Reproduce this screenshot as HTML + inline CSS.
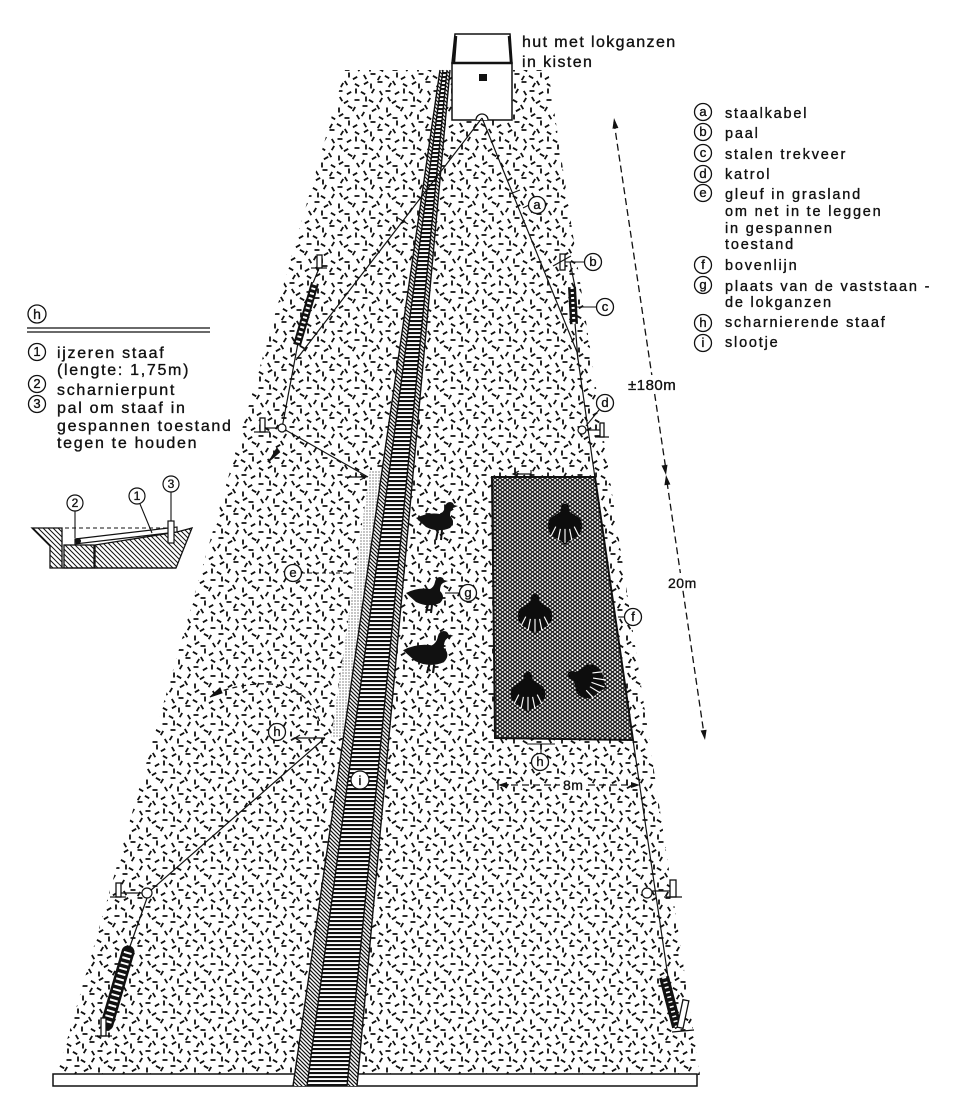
<!DOCTYPE html>
<html><head><meta charset="utf-8"><style>
html,body{margin:0;padding:0;background:#fff;}
svg{display:block;}
text{font-family:"Liberation Sans",Arial,sans-serif;fill:#111;stroke:#111;stroke-width:0.35;}
</style></head><body>
<svg width="960" height="1094" viewBox="0 0 960 1094" xmlns="http://www.w3.org/2000/svg">
<defs>
<pattern id="grass" patternUnits="userSpaceOnUse" width="48" height="48">
<path fill="none" stroke="#111" stroke-width="1.8" d="M3.8 0.9 l2.5 4.3 M12.2 4.8 l-4.3 2.5 M18.5 4 l5 0 M30 0.5 l0 5 M32.9 3.8 l4.3 2.5 M46.2 1.9 l-2.5 4.3
M3 11.5 l0 5 M11.9 9.8 l4.3 2.5 M19.2 10.9 l-2.5 4.3 M26.5 10 l5 0 M40.2 12.8 l-4.3 2.5 M40.8 8.9 l2.5 4.3
M7.2 17.8 l-4.3 2.5 M8.5 22 l5 0 M20.8 18.9 l2.5 4.3 M28.2 15.9 l-2.5 4.3 M34 18.5 l0 5 M42.9 20.8 l4.3 2.5
M0.9 27.8 l4.3 2.5 M13 24.5 l0 5 M21.2 28.8 l-4.3 2.5 M27.8 26.9 l2.5 4.3 M34.5 26 l5 0 M44.2 27.9 l-2.5 4.3
M7.2 34.9 l-2.5 4.3 M8.8 32.9 l2.5 4.3 M18.9 35.8 l4.3 2.5 M32.2 33.8 l-4.3 2.5 M35 35.5 l0 5 M41.5 34 l5 0
M1.5 43 l5 0 M15.2 43.8 l-4.3 2.5 M20 40.5 l0 5 M24.9 43.8 l4.3 2.5 M38.2 40.9 l-2.5 4.3 M43.8 42.9 l2.5 4.3"/>
</pattern>
<pattern id="hatch" patternUnits="userSpaceOnUse" width="4" height="4">
<path d="M0,0 L4,4 M-1,3 L1,5 M3,-1 L5,1" stroke="#111" stroke-width="1.2"/>
</pattern>
<pattern id="hatch2" patternUnits="userSpaceOnUse" width="5" height="5">
<path d="M0,0 L5,5 M-1,4 L1,6 M4,-1 L6,1" stroke="#111" stroke-width="1"/>
</pattern>
<pattern id="rungs" patternUnits="userSpaceOnUse" width="8" height="4">
<rect width="8" height="2.1" fill="#111"/>
</pattern>
<pattern id="mesh" patternUnits="userSpaceOnUse" width="5" height="4">
<rect width="5" height="4" fill="#1a1a1a"/>
<path d="M2.5,0.8 L3.9,2 L2.5,3.2 L1.1,2Z M0,-1.2 L1.4,0 L0,1.2 L-1.4,0Z M5,-1.2 L6.4,0 L5,1.2 L3.6,0Z M0,2.8 L1.4,4 L0,5.2 L-1.4,4Z M5,2.8 L6.4,4 L5,5.2 L3.6,4Z" fill="#fff"/>
</pattern>
<pattern id="dots" patternUnits="userSpaceOnUse" width="3" height="3">
<circle cx="1" cy="1" r="0.6" fill="#333"/>
</pattern>
</defs>

<!-- field -->
<polygon points="345,70 548,70 700,1075 57,1075" fill="url(#grass)"/>

<!-- baseline -->
<rect x="53" y="1074" width="644" height="12" fill="#fff" stroke="#111" stroke-width="1.5"/>

<!-- gleuf stipple band -->
<polygon points="370,470 383,470 346,738 331,738" fill="#fff"/>
<polygon points="370,470 383,470 346,738 331,738" fill="url(#dots)"/>

<!-- ditch -->
<polygon points="440,70 443,70 307,1086 293,1086" fill="#fff"/>
<polygon points="440,70 443,70 307,1086 293,1086" fill="url(#hatch)"/>
<polygon points="443,70 447,70 347,1086 307,1086" fill="#fff"/>
<polygon points="443,70 447,70 347,1086 307,1086" fill="url(#rungs)"/>
<polygon points="447,70 450,70 357,1086 347,1086" fill="#fff"/>
<polygon points="447,70 450,70 357,1086 347,1086" fill="url(#hatch)"/>
<g stroke="#111" stroke-width="1.4" fill="none">
<line x1="440" y1="70" x2="293" y2="1086"/>
<line x1="443" y1="70" x2="307" y2="1086"/>
<line x1="447" y1="70" x2="347" y2="1086"/>
<line x1="450" y1="70" x2="357" y2="1086"/>
</g>
<circle cx="360" cy="780" r="9" fill="#fff" stroke="#111" stroke-width="1.2"/>
<text x="360" y="785" font-size="13" text-anchor="middle">i</text>

<!-- hut -->
<polygon points="455,34 510,34 512,63 452,63" fill="#fff" stroke="#111" stroke-width="1.5"/>
<line x1="456" y1="36" x2="454" y2="62" stroke="#111" stroke-width="2.5"/>
<line x1="509" y1="36" x2="511" y2="62" stroke="#111" stroke-width="2.5"/>
<rect x="452" y="63" width="60" height="57" fill="#fff" stroke="#111" stroke-width="1.5"/>
<line x1="452" y1="63" x2="512" y2="63" stroke="#111" stroke-width="2.5"/>
<rect x="479" y="74" width="8" height="7" fill="#111"/>
<path d="M476,120 A6,6 0 0 1 488,120" fill="#fff" stroke="#111" stroke-width="1.3"/>
<text x="522" y="47" font-size="16" letter-spacing="1.4">hut met lokganzen</text>
<text x="522" y="67" font-size="16" letter-spacing="1.4">in kisten</text>

<!-- cables -->
<g stroke="#111" stroke-width="1.2" fill="none">
<polyline points="482,118 577,352 595,478"/>
<line x1="633" y1="740" x2="668" y2="977"/>
<line x1="482" y1="118" x2="296" y2="360"/>
<line x1="282" y1="428" x2="298" y2="343"/>
<line x1="313" y1="283" x2="320" y2="266"/>
<line x1="282" y1="428" x2="368" y2="477"/>
<line x1="263" y1="428" x2="278" y2="428"/>
<line x1="325" y1="738" x2="150" y2="891"/>
<line x1="147" y1="898" x2="128" y2="952"/>
<line x1="120" y1="893" x2="142" y2="893"/>
<line x1="652" y1="891" x2="672" y2="891"/>
<line x1="570" y1="262" x2="575" y2="287"/>
<line x1="575" y1="323" x2="578" y2="360"/>
<line x1="586" y1="430" x2="600" y2="430"/>
<line x1="510" y1="194" x2="520" y2="190"/>
<line x1="398" y1="218" x2="408" y2="224"/>
</g>

<!-- pulleys -->
<g fill="#fff" stroke="#111" stroke-width="1.2">
<circle cx="282" cy="428" r="4"/>
<circle cx="582" cy="430" r="4"/>
<circle cx="147" cy="893" r="5"/>
<circle cx="647" cy="893" r="5"/>
</g>

<!-- springs -->
<line x1="315" y1="283" x2="297" y2="345" stroke="#111" stroke-width="8"/>
<line x1="315" y1="283" x2="297" y2="345" stroke="#fff" stroke-width="4" stroke-dasharray="2 3"/>
<line x1="572" y1="287" x2="574" y2="324" stroke="#111" stroke-width="8"/>
<line x1="572" y1="287" x2="574" y2="324" stroke="#fff" stroke-width="3" stroke-dasharray="2 3"/>
<line x1="128" y1="952" x2="107" y2="1024" stroke="#111" stroke-width="13" stroke-linecap="round"/>
<line x1="128" y1="952" x2="107" y2="1024" stroke="#fff" stroke-width="8" stroke-dasharray="2 3.5"/>
<line x1="664" y1="977" x2="677" y2="1027" stroke="#111" stroke-width="10"/>
<line x1="664" y1="977" x2="677" y2="1027" stroke="#fff" stroke-width="4" stroke-dasharray="1.5 3.5"/>

<!-- posts -->
<g stroke="#111" stroke-width="1.3" fill="#fff">
<rect x="317" y="255" width="5" height="13"/>
<rect x="560" y="254" width="5" height="16"/>
<rect x="260" y="418" width="5" height="14"/>
<rect x="600" y="423" width="4" height="14"/>
<rect x="116" y="883" width="5" height="14"/>
<rect x="670" y="880" width="6" height="17"/>
<rect x="101" y="1018" width="5" height="18"/>
<rect x="680" y="1000" width="6" height="28" transform="rotate(12 683 1014)"/>
</g>
<g stroke="#111" stroke-width="1.2">
<line x1="311" y1="268" x2="327" y2="268"/>
<line x1="553" y1="266" x2="571" y2="256"/>
<line x1="254" y1="432" x2="270" y2="432"/>
<line x1="595" y1="437" x2="609" y2="437"/>
<line x1="110" y1="897" x2="126" y2="897"/>
<line x1="664" y1="897" x2="682" y2="897"/>
<line x1="95" y1="1036" x2="112" y2="1036"/>
<line x1="672" y1="1032" x2="694" y2="1030"/>
</g>

<!-- small arrows -->
<path d="M271,459 L279,452 L277,449Z M268,462 L279,450" stroke="#111" stroke-width="2" fill="#111"/>
<path d="M345,477 L366,477 M360,474 L366,477 L360,480" stroke="#111" stroke-width="1.2" fill="none"/>
<path d="M513,474 L531,474 M519,471 L513,474 L519,477 M531,470 L531,478" stroke="#111" stroke-width="1.2" fill="none"/>
<path d="M295,738 L325,738 M300,735 L295,738 L300,741" stroke="#111" stroke-width="1.3" fill="none"/>
<path d="M215,693 Q300,665 320,722" stroke="#111" stroke-width="1.2" fill="none" stroke-dasharray="5 4"/>
<path d="M210,697 L220,688 L222,693Z" fill="#111" stroke="#111" stroke-width="1"/>

<!-- net -->
<polygon points="492,477 595,477 633,740 495,738" fill="url(#mesh)" stroke="#111" stroke-width="2"/>
<g fill="#0d0d0d">
<g transform="translate(565,522) scale(1.15)"><path d="M0,-16 Q4,-16 4,-9 L13,-3 Q18,5 11,12 L4,16 L0,20 L-4,16 L-11,12 Q-18,5 -13,-3 L-4,-9 Q-4,-16 0,-16Z"/><path d="M-8,4 L-12,12 M-4,6 L-6,16 M0,6 L0,18 M4,6 L6,16 M8,4 L12,12" stroke="#fff" stroke-width="1"/></g>
<g transform="translate(535,612) scale(1.15)"><path d="M0,-16 Q4,-16 4,-9 L13,-3 Q18,5 11,12 L4,16 L0,20 L-4,16 L-11,12 Q-18,5 -13,-3 L-4,-9 Q-4,-16 0,-16Z"/><path d="M-8,4 L-12,12 M-4,6 L-6,16 M0,6 L0,18 M4,6 L6,16 M8,4 L12,12" stroke="#fff" stroke-width="1"/></g>
<g transform="translate(528,690) scale(1.15)"><path d="M0,-16 Q4,-16 4,-9 L13,-3 Q18,5 11,12 L4,16 L0,20 L-4,16 L-11,12 Q-18,5 -13,-3 L-4,-9 Q-4,-16 0,-16Z"/><path d="M-8,4 L-12,12 M-4,6 L-6,16 M0,6 L0,18 M4,6 L6,16 M8,4 L12,12" stroke="#fff" stroke-width="1"/></g>
<g transform="translate(585,680) rotate(-70) scale(1.15)"><path d="M0,-16 Q4,-16 4,-9 L13,-3 Q18,5 11,12 L4,16 L0,20 L-4,16 L-11,12 Q-18,5 -13,-3 L-4,-9 Q-4,-16 0,-16Z"/><path d="M-8,4 L-12,12 M-4,6 L-6,16 M0,6 L0,18 M4,6 L6,16 M8,4 L12,12" stroke="#fff" stroke-width="1"/></g>
</g>

<!-- geese decoys -->
<g fill="#111" stroke="#111">
<g transform="translate(436,522)"><path stroke="none" d="M-20,-4 Q-8,-10 4,-8 Q8,-10 9,-15 Q10,-20 14,-20 Q17,-20 18,-17 L22,-16 L17,-14 Q14,-12 14,-6 Q20,0 14,6 Q2,11 -10,5 Z"/><path d="M2,8 L0,18 M6,8 L5,18" stroke-width="2" fill="none"/></g>
<g transform="translate(426,597)"><path stroke="none" d="M-20,-4 Q-8,-10 4,-8 Q8,-10 9,-15 Q10,-20 14,-20 Q17,-20 18,-17 L22,-16 L17,-14 Q14,-12 14,-6 Q20,0 14,6 Q2,11 -10,5 Z"/><path d="M2,8 L0,16 M6,8 L5,16" stroke-width="2" fill="none"/></g>
<g transform="translate(427,655) scale(1.2)"><path stroke="none" d="M-20,-4 Q-8,-10 4,-8 Q8,-10 9,-15 Q10,-20 14,-20 Q17,-20 18,-17 L22,-16 L17,-14 Q14,-12 14,-6 Q20,0 14,6 Q2,11 -10,5 Z"/><path d="M2,8 L0,15 M6,8 L5,15" stroke-width="1.8" fill="none"/></g>
</g>

<!-- diagram labels -->
<g stroke="#111" stroke-width="1.1" fill="none">
<line x1="523" y1="208" x2="529" y2="205"/>
<line x1="565" y1="262" x2="585" y2="262"/>
<line x1="577" y1="307" x2="597" y2="307"/>
<line x1="586" y1="426" x2="599" y2="410"/>
<line x1="445" y1="593" x2="460" y2="593"/>
<line x1="625" y1="617" x2="618" y2="617"/>
<line x1="301" y1="573" x2="357" y2="573" stroke-dasharray="4 3"/>
<path d="M527,744 L555,744 M541,744 L541,753"/>
</g>
<g fill="#fff" stroke="#111" stroke-width="1.3">
<circle cx="537" cy="205" r="8.5"/>
<circle cx="593" cy="262" r="8.5"/>
<circle cx="605" cy="307" r="8.5"/>
<circle cx="605" cy="403" r="8.5"/>
<circle cx="468" cy="593" r="8.5"/>
<circle cx="633" cy="617" r="8.5"/>
<circle cx="293" cy="573" r="8.5"/>
<circle cx="277" cy="732" r="8.5"/>
<circle cx="540" cy="762" r="8.5"/>
</g>
<g font-size="13" text-anchor="middle">
<text x="537" y="209">a</text>
<text x="593" y="266">b</text>
<text x="605" y="311">c</text>
<text x="605" y="407">d</text>
<text x="468" y="597">g</text>
<text x="633" y="621">f</text>
<text x="293" y="577">e</text>
<text x="277" y="736">h</text>
<text x="540" y="766">h</text>
</g>

<!-- dimensions -->
<g stroke="#111" stroke-width="1.3" fill="none" stroke-dasharray="7 4">
<line x1="614" y1="122" x2="666" y2="470"/>
<line x1="667" y1="482" x2="704" y2="734"/>
<line x1="500" y1="785" x2="636" y2="785"/>
</g>
<g fill="#111">
<polygon points="614,118 618.4,128 612.5,128.8"/>
<polygon points="666,475 667.5,464.7 661.5,465.5"/>
<polygon points="666,475 670.4,484.5 664.4,485.3"/>
<polygon points="705,740 706.6,729.7 700.6,730.5"/>
<polygon points="498,785 507,782 507,788"/>
<polygon points="640,785 631,782 631,788"/>
</g>
<line x1="498" y1="780" x2="498" y2="790" stroke="#111" stroke-width="1.3"/>
<rect x="626" y="375" width="52" height="18" fill="#fff"/>
<text x="628" y="390" font-size="15" letter-spacing="0.5">±180m</text>
<rect x="666" y="573" width="34" height="17" fill="#fff"/>
<text x="668" y="588" font-size="14" letter-spacing="0.5">20m</text>
<rect x="560" y="777" width="26" height="16" fill="#fff"/>
<text x="563" y="790" font-size="14" letter-spacing="0.5">8m</text>

<!-- right legend -->
<g fill="#fff" stroke="#111" stroke-width="1.3">
<circle cx="703" cy="112" r="8.5"/><circle cx="703" cy="132" r="8.5"/><circle cx="703" cy="153" r="8.5"/>
<circle cx="703" cy="174" r="8.5"/><circle cx="703" cy="193" r="8.5"/><circle cx="703" cy="265" r="8.5"/>
<circle cx="703" cy="285" r="8.5"/><circle cx="703" cy="323" r="8.5"/><circle cx="703" cy="343" r="8.5"/>
</g>
<g font-size="13" text-anchor="middle">
<text x="703" y="116">a</text><text x="703" y="136">b</text><text x="703" y="157">c</text>
<text x="703" y="178">d</text><text x="703" y="197">e</text><text x="703" y="269">f</text>
<text x="703" y="289">g</text><text x="703" y="327">h</text><text x="703" y="347">i</text>
</g>
<g font-size="14.5" letter-spacing="1.8">
<text x="725" y="118">staalkabel</text>
<text x="725" y="138">paal</text>
<text x="725" y="159">stalen trekveer</text>
<text x="725" y="179">katrol</text>
<text x="725" y="199">gleuf in grasland</text>
<text x="725" y="216">om net in te leggen</text>
<text x="725" y="233">in gespannen</text>
<text x="725" y="249">toestand</text>
<text x="725" y="270">bovenlijn</text>
<text x="725" y="291">plaats van de vaststaan -</text>
<text x="725" y="307">de lokganzen</text>
<text x="725" y="327">scharnierende staaf</text>
<text x="725" y="347">slootje</text>
</g>

<!-- left legend -->
<circle cx="37" cy="314" r="9" fill="#fff" stroke="#111" stroke-width="1.3"/>
<text x="37" y="319" font-size="14" text-anchor="middle">h</text>
<line x1="27" y1="328" x2="210" y2="328" stroke="#111" stroke-width="1.3"/>
<line x1="27" y1="332" x2="210" y2="332" stroke="#111" stroke-width="1.3"/>
<g fill="#fff" stroke="#111" stroke-width="1.3">
<circle cx="37" cy="352" r="8.5"/><circle cx="37" cy="384" r="8.5"/><circle cx="37" cy="404" r="8.5"/>
</g>
<g font-size="13" text-anchor="middle">
<text x="37" y="356">1</text><text x="37" y="388">2</text><text x="37" y="408">3</text>
</g>
<g font-size="16" letter-spacing="1.7">
<text x="57" y="358">ijzeren staaf</text>
<text x="57" y="375">(lengte: 1,75m)</text>
<text x="57" y="395">scharnierpunt</text>
<text x="57" y="413">pal om staaf in</text>
<text x="57" y="431">gespannen toestand</text>
<text x="57" y="448">tegen te houden</text>
</g>

<!-- hinge detail -->
<polygon points="32,528 62,528 62,568 50,568 50,546" fill="url(#hatch2)" stroke="#111" stroke-width="1.3"/>
<rect x="64" y="545" width="30" height="23" fill="url(#hatch2)" stroke="#111" stroke-width="1.3"/>
<polygon points="95,545 177,532 192,528 176,568 95,568" fill="url(#hatch2)" stroke="#111" stroke-width="1.3"/>
<line x1="62" y1="568" x2="176" y2="568" stroke="#111" stroke-width="1.3"/>
<line x1="65" y1="528" x2="168" y2="528" stroke="#111" stroke-width="1.1" stroke-dasharray="4 3"/>
<polygon points="75,539 177,527 177,532 75,544" fill="#fff" stroke="#111" stroke-width="1.2"/>
<circle cx="78" cy="541" r="3" fill="#111"/>
<rect x="168" y="521" width="6" height="22" fill="#fff" stroke="#111" stroke-width="1.2"/>
<g stroke="#111" stroke-width="1.1">
<line x1="75" y1="511" x2="75" y2="538"/>
<line x1="140" y1="504" x2="152" y2="533"/>
<line x1="171" y1="492" x2="171" y2="521"/>
</g>
<g fill="#fff" stroke="#111" stroke-width="1.2">
<circle cx="75" cy="503" r="8"/><circle cx="137" cy="496" r="8"/><circle cx="171" cy="484" r="8"/>
</g>
<g font-size="12" text-anchor="middle">
<text x="75" y="507">2</text><text x="137" y="500">1</text><text x="171" y="488">3</text>
</g>
</svg>
</body></html>
